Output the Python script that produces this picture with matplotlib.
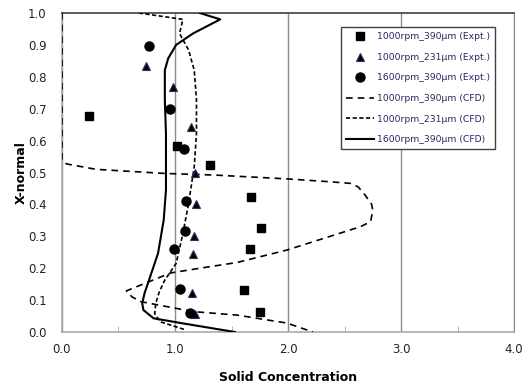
import matplotlib
matplotlib.use("Agg")
import matplotlib.pyplot as plt
from matplotlib.ticker import MultipleLocator, FormatStrFormatter

# Experimental data (concentration, x-normal)
sq_x = [0.24, 1.02, 1.31, 1.67, 1.76, 1.66, 1.61, 1.75]
sq_y = [0.678, 0.584, 0.523, 0.424, 0.325, 0.26, 0.132, 0.062]

tri_x = [0.74, 0.98, 1.14, 1.18, 1.19, 1.17, 1.16, 1.15, 1.18]
tri_y = [0.835, 0.769, 0.644, 0.497, 0.402, 0.30, 0.245, 0.121, 0.056]

cir_x = [0.77, 0.96, 1.08, 1.10, 1.09, 0.99, 1.04, 1.13]
cir_y = [0.897, 0.698, 0.574, 0.411, 0.317, 0.26, 0.135, 0.061]

# CFD curves
cfdA_x = [0.0, 0.0, 0.04, 0.3, 0.91, 1.35, 1.99, 2.37, 2.55, 2.62, 2.68, 2.74, 2.75, 2.73, 2.64,
          1.99, 1.55, 1.22, 0.96, 0.57, 0.62, 0.70, 1.16, 1.55, 1.99, 2.22]
cfdA_y = [1.0, 0.54, 0.527, 0.51, 0.497, 0.492, 0.48, 0.471, 0.466, 0.455, 0.43, 0.40, 0.38, 0.346, 0.33,
          0.257, 0.218, 0.20, 0.185, 0.129, 0.11, 0.095, 0.064, 0.053, 0.028, 0.0]

cfdB_x = [0.68, 1.07, 1.04, 1.12, 1.17, 1.19, 1.19, 1.17, 1.12, 1.07, 1.01, 0.91,
          0.86, 0.83, 0.82, 0.87, 1.10]
cfdB_y = [1.0, 0.98, 0.936, 0.884, 0.821, 0.727, 0.622, 0.518, 0.403, 0.309, 0.215,
          0.163, 0.125, 0.09, 0.058, 0.032, 0.006]

cfdC_x = [1.22, 1.40, 1.16, 1.01, 0.94, 0.91, 0.91, 0.92, 0.92, 0.92, 0.90, 0.85,
          0.78, 0.73, 0.71, 0.72, 0.81, 1.07, 1.53]
cfdC_y = [1.0, 0.98, 0.936, 0.90, 0.858, 0.821, 0.727, 0.623, 0.476, 0.445, 0.351,
          0.247, 0.173, 0.121, 0.09, 0.069, 0.043, 0.027, 0.0]

labels = ["1000rpm_390\u00b5m (Expt.)", "1000rpm_231\u00b5m (Expt.)",
          "1600rpm_390\u00b5m (Expt.)", "1000rpm_390\u00b5m (CFD)",
          "1000rpm_231\u00b5m (CFD)", "1600rpm_390\u00b5m (CFD)"]

fig = plt.figure(figsize=(5.23, 3.88), dpi=100)
ax = fig.add_axes([0.1185, 0.1443, 0.8645, 0.8222])

ax.plot(sq_x, sq_y, ls='none', marker='s', ms=5.5, color='black', label=labels[0], zorder=4)
ax.plot(tri_x, tri_y, ls='none', marker='^', ms=6, color='black', mec='#3a2a60',
        mew=0.8, label=labels[1], zorder=4)
ax.plot(cir_x, cir_y, ls='none', marker='o', ms=6.5, color='black', label=labels[2], zorder=4)
ax.plot(cfdA_x, cfdA_y, color='black', lw=1.2, ls=(0, (4, 3)), label=labels[3], zorder=3)
ax.plot(cfdB_x, cfdB_y, color='black', lw=1.2, ls=(0, (2.5, 1.5)), label=labels[4], zorder=3)
ax.plot(cfdC_x, cfdC_y, color='black', lw=1.5, ls='-', label=labels[5], zorder=3)

ax.set_xlim(0, 4)
ax.set_ylim(0, 1)
ax.xaxis.set_major_locator(MultipleLocator(1.0))
ax.xaxis.set_minor_locator(MultipleLocator(0.5))
ax.yaxis.set_major_locator(MultipleLocator(0.1))
ax.xaxis.set_major_formatter(FormatStrFormatter('%.1f'))
ax.yaxis.set_major_formatter(FormatStrFormatter('%.1f'))
ax.grid(axis='x', which='major', color='#8c8c8c', lw=1.0)
ax.tick_params(axis='x', which='major', length=0, pad=8, labelsize=8.5, colors='#222222')
ax.tick_params(axis='x', which='minor', direction='in', length=4, color='#aaaaaa')
ax.tick_params(axis='y', which='major', length=0, pad=11, labelsize=8.5, colors='#222222')
for s in ['left', 'bottom']:
    ax.spines[s].set_color('#aaaaaa')
    ax.spines[s].set_linewidth(1.2)
ax.spines['right'].set_color('#8c8c8c')
ax.spines['top'].set_color('#404040')
ax.spines['top'].set_linewidth(1.2)

ax.set_xlabel('Solid Concentration', fontsize=9, fontweight='bold', labelpad=11)
ax.set_ylabel('X-normal', fontsize=9, fontweight='bold', labelpad=0)

leg = ax.legend(loc='upper left', bbox_to_anchor=(0.617, 0.956), fontsize=6.7,
                frameon=True, fancybox=False, edgecolor='#404040', framealpha=1,
                handlelength=3.0, handletextpad=0.3, labelspacing=1.25,
                borderpad=0.55, borderaxespad=0, labelcolor='#2a2560')
leg.get_frame().set_linewidth(1.0)

fig.savefig('out.png', dpi=100)
